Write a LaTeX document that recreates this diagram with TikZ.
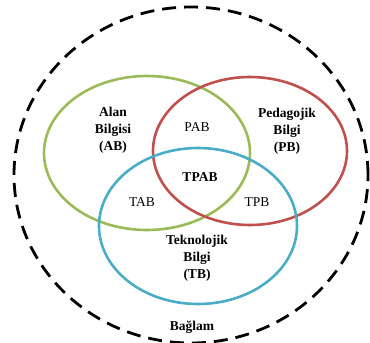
\documentclass[tikz,border=0pt]{standalone}
\usepackage{fontspec}
\setmainfont{Liberation Serif}
\usetikzlibrary{shapes.geometric, positioning}
\definecolor{setgreen}{HTML}{9BBB59}
\definecolor{setred}{HTML}{C0504D}
\definecolor{setblue}{HTML}{4BACC6}

\begin{document}
\begin{tikzpicture}[
    x=1pt, y=-1pt,
    setring/.style={ellipse, draw, line width=2.6pt, inner sep=0pt},
    setname/.style={align=center, font=\fontsize{13.5}{17}\selectfont\bfseries},
    overlap/.style={font=\fontsize{13.5}{15}\selectfont}
]
\useasboundingbox (0,0) rectangle (370,343);

% Context
\node[setring, draw=black, dash pattern=on 14pt off 8pt, line width=2.8pt, minimum width=354pt, minimum height=336pt] (context) at (191,175) {};

% Knowledge domains
\node[setring, draw=setgreen, minimum width=206pt, minimum height=154pt] (ab) at (147,153) {};
\node[setring, draw=setred, minimum width=194pt, minimum height=148pt] (pb) at (250,151) {};
\node[setring, draw=setblue, minimum width=198pt, minimum height=156pt] (tb) at (198,226) {};

% Domain names
\node[setname] (abtext) at (113,130) {Alan\\Bilgisi\\(AB)};
\node[setname] (pbtext) at (287,131) {Pedagojik\\Bilgi\\(PB)};
\node[setname] (tbtext) at (197,258) {Teknolojik\\Bilgi\\(TB)};
\node[setname] (contexttext) at (192,327) {Bağlam};

% Intersections
\node[overlap] (pab) at (197,127) {PAB};
\node[overlap, font=\fontsize{13.5}{15}\selectfont\bfseries] (tpab) at (200,177) {TPAB};
\node[overlap] (tab) at (142,202) {TAB};
\node[overlap] (tpb) at (257,202) {TPB};
\end{tikzpicture}
\end{document}
